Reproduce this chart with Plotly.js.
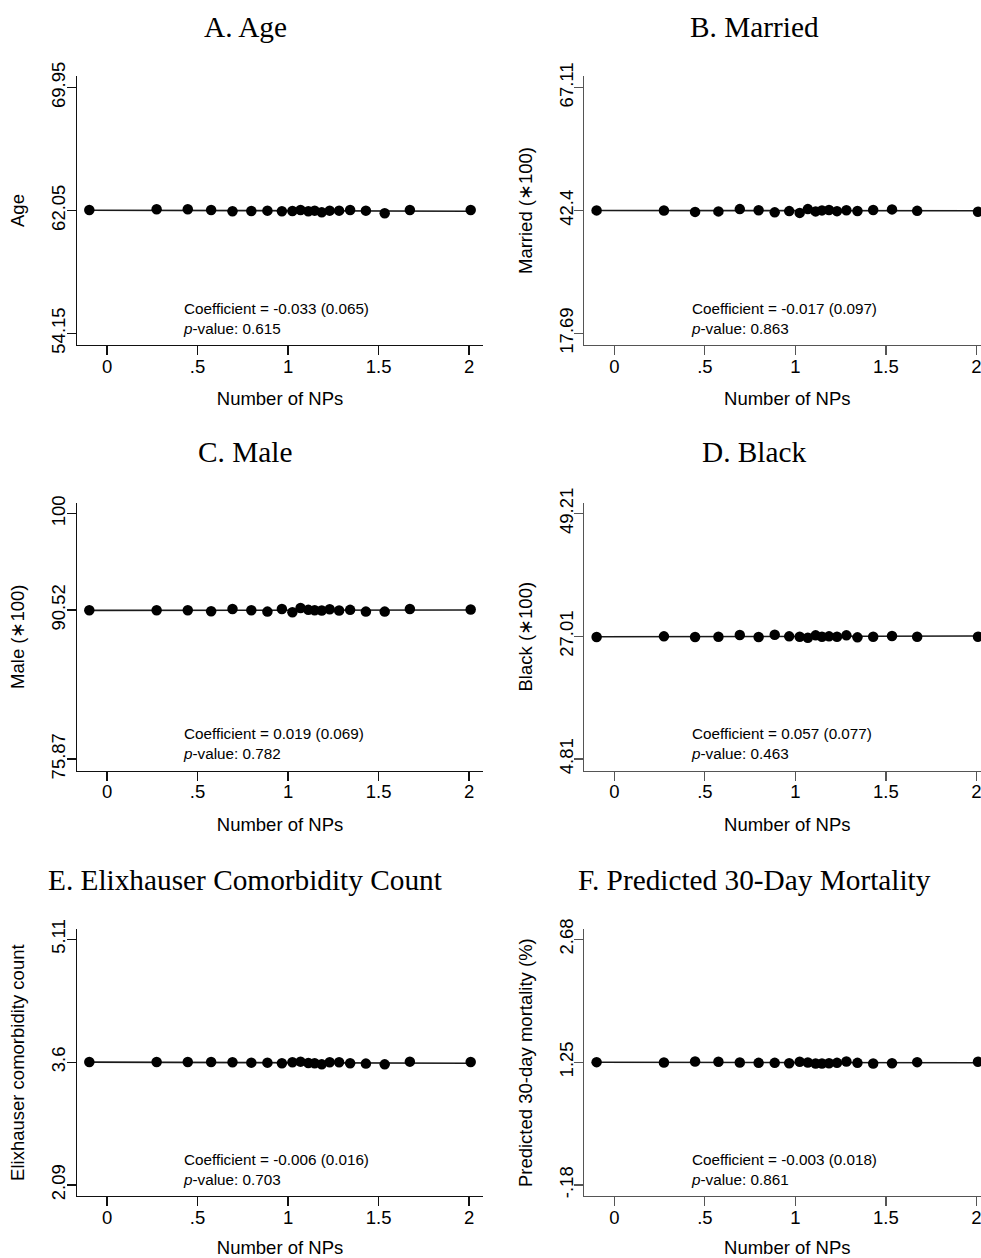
<!DOCTYPE html>
<html>
<head>
<meta charset="utf-8">
<script src="https://cdn.plot.ly/plotly-3.0.1.min.js"></script>
<style>
html,body{margin:0;padding:0;overflow:hidden;background:#fff;}
#chart{width:1000px;height:1258px;}
</style>
</head>
<body>
<div id="chart"></div>
<script>
// ---- data ----
var npX = [-0.098, 0.274, 0.446, 0.575, 0.693, 0.797, 0.886, 0.966, 1.024, 1.069,
           1.112, 1.147, 1.186, 1.230, 1.282, 1.343, 1.430, 1.534, 1.673, 2.009];

var ageY = [62.08, 62.13, 62.13, 62.08, 62.00, 62.02, 62.04, 62.00, 62.02, 62.08,
            62.00, 62.04, 61.93, 62.04, 62.04, 62.08, 62.04, 61.87, 62.08, 62.08];
var marriedY = [42.42, 42.41, 42.12, 42.22, 42.68, 42.45, 42.03, 42.28, 41.92, 42.68,
                42.22, 42.42, 42.50, 42.27, 42.45, 42.30, 42.50, 42.62, 42.33, 42.15];
var maleY = [90.50, 90.50, 90.50, 90.41, 90.63, 90.50, 90.37, 90.63, 90.31, 90.73,
             90.54, 90.50, 90.47, 90.60, 90.47, 90.54, 90.37, 90.37, 90.63, 90.57];
var blackY = [26.89, 27.01, 26.89, 26.95, 27.25, 26.89, 27.31, 27.01, 26.95, 26.77,
              27.19, 26.95, 27.01, 26.95, 27.19, 26.83, 26.95, 27.07, 26.95, 26.95];
var elixY = [3.602, 3.602, 3.602, 3.602, 3.598, 3.594, 3.594, 3.586, 3.598, 3.606,
             3.590, 3.586, 3.573, 3.598, 3.598, 3.586, 3.582, 3.573, 3.606, 3.602];
var mortY = [1.250, 1.246, 1.258, 1.254, 1.246, 1.242, 1.242, 1.238, 1.254, 1.246,
             1.234, 1.234, 1.238, 1.242, 1.258, 1.242, 1.234, 1.238, 1.250, 1.254];

// fitted line end values (left end, right end) for each panel
var fitStart = [62.07, 42.40, 90.49, 26.94, 3.600, 1.249];
var fitEnd   = [62.00, 42.36, 90.53, 27.06, 3.587, 1.243];

var panelTitles = ["A. Age", "B. Married", "C. Male", "D. Black",
                   "E. Elixhauser Comorbidity Count", "F. Predicted 30-Day Mortality"];
var yTitles = ["Age", "Married (\u2217100)", "Male (\u2217100)", "Black (\u2217100)",
               "Elixhauser comorbidity count", "Predicted 30-day mortality (%)"];
var yTickVals = [[54.15, 62.05, 69.95], [17.69, 42.4, 67.11], [75.87, 90.52, 100],
                 [4.81, 27.01, 49.21], [2.09, 3.6, 5.11], [-0.18, 1.25, 2.68]];
var yTickText = [["54.15", "62.05", "69.95"], ["17.69", "42.4", "67.11"], ["75.87", "90.52", "100"],
                 ["4.81", "27.01", "49.21"], ["2.09", "3.6", "5.11"], ["-.18", "1.25", "2.68"]];
var coefText = ["-0.033 (0.065)", "-0.017 (0.097)", "0.019 (0.069)",
                "0.057 (0.077)", "-0.006 (0.016)", "-0.003 (0.018)"];
var pText = ["0.615", "0.863", "0.782", "0.463", "0.703", "0.861"];
var xTickVals = [0, 0.5, 1, 1.5, 2];
var xTickText = ["0", ".5", "1", "1.5", "2"];
var xTitle = "Number of NPs";

var seriesY = [ageY, marriedY, maleY, blackY, elixY, mortY];

// ---- layout geometry (pixels) ----
var W = 1000, H = 1258;
var colLeft = [77, 584.3];
var plotW = 406;
var rowTop = [76, 502.7, 929.3];
var rowBottom = [345, 770.7, 1196];
var topTickPx = [87.7, 513.7, 939.3];
var botTickPx = [333.3, 759, 1185];
var titleCenterX = [245, 754];
var titleCenterY = [27, 452, 880];
var xRange = [-0.166, 2.077];

var SANS = "Liberation Sans, Arial, sans-serif";
var SERIF = "Liberation Serif, Times New Roman, serif";

var traces = [];
var layout = {
  width: W, height: H,
  margin: {l: 0, r: 0, t: 0, b: 0},
  paper_bgcolor: "#ffffff",
  plot_bgcolor: "#ffffff",
  showlegend: false,
  annotations: []
};

function px2x(p) { return p / W; }
function px2y(p) { return 1 - p / H; }

for (var i = 0; i < 6; i++) {
  var row = Math.floor(i / 2), col = i % 2;
  var sfx = i === 0 ? "" : String(i + 1);
  var xa = "x" + sfx, ya = "y" + sfx;
  var axisColor = col === 0 ? "#111111" : "#555555";

  // fitted line
  traces.push({
    type: "scatter", mode: "lines",
    x: [npX[0], npX[npX.length - 1]],
    y: [fitStart[i], fitEnd[i]],
    xaxis: xa, yaxis: ya,
    line: {color: "#1a1a1a", width: 1.6},
    hoverinfo: "skip"
  });
  // binned means
  traces.push({
    type: "scatter", mode: "markers",
    x: npX, y: seriesY[i],
    xaxis: xa, yaxis: ya,
    marker: {color: "#000000", size: 10.5, line: {width: 0}}
  });

  // y range from tick values and pixel positions
  var tv = yTickVals[i];
  var lo = tv[0], hi = tv[2];
  var ppu = (botTickPx[row] - topTickPx[row]) / (hi - lo);
  var yMax = hi + (topTickPx[row] - rowTop[row]) / ppu;
  var yMin = lo - (rowBottom[row] - botTickPx[row]) / ppu;

  layout["xaxis" + sfx] = {
    domain: [px2x(colLeft[col]), px2x(colLeft[col] + plotW)],
    anchor: ya,
    range: xRange,
    showgrid: false, zeroline: false,
    showline: true, linecolor: axisColor, linewidth: 1.3,
    ticks: "outside", ticklen: 9, tickwidth: 1.3, tickcolor: axisColor,
    tickmode: "array", tickvals: xTickVals, ticktext: xTickText,
    ticklabelstandoff: -5,
    tickfont: {family: SANS, size: 18.5, color: "#000"},
    title: {text: xTitle, font: {family: SANS, size: 18.5, color: "#000"}, standoff: 16},
    fixedrange: true
  };
  layout["yaxis" + sfx] = {
    domain: [px2y(rowBottom[row]), px2y(rowTop[row])],
    anchor: xa,
    range: [yMin, yMax],
    showgrid: false, zeroline: false,
    showline: true, linecolor: axisColor, linewidth: 1.3,
    ticks: "outside", ticklen: 9, tickwidth: 1.3, tickcolor: axisColor,
    tickmode: "array", tickvals: yTickVals[i], ticktext: yTickText[i],
    tickangle: -90,
    ticklabelstandoff: -6,
    tickfont: {family: SANS, size: 18.5, color: "#000"},
    title: {text: yTitles[i], font: {family: SANS, size: 18.5, color: "#000"}, standoff: 18},
    fixedrange: true
  };

  // panel title
  layout.annotations.push({
    xref: "paper", yref: "paper",
    x: px2x(titleCenterX[col]), y: px2y(titleCenterY[row]),
    xanchor: "center", yanchor: "middle",
    text: panelTitles[i], showarrow: false,
    font: {family: SERIF, size: 29.3, color: "#000"}
  });
  // coefficient text
  layout.annotations.push({
    xref: xa, yref: "paper",
    x: 0.41, y: px2y(rowBottom[row] - 27),
    xanchor: "left", yanchor: "middle", align: "left",
    text: "Coefficient = " + coefText[i] + "<br><i>p</i>-value: " + pText[i],
    showarrow: false,
    font: {family: SANS, size: 15.25, color: "#000"}
  });
}

Plotly.newPlot("chart", traces, layout, {staticPlot: true, displayModeBar: false});
</script>
</body>
</html>
